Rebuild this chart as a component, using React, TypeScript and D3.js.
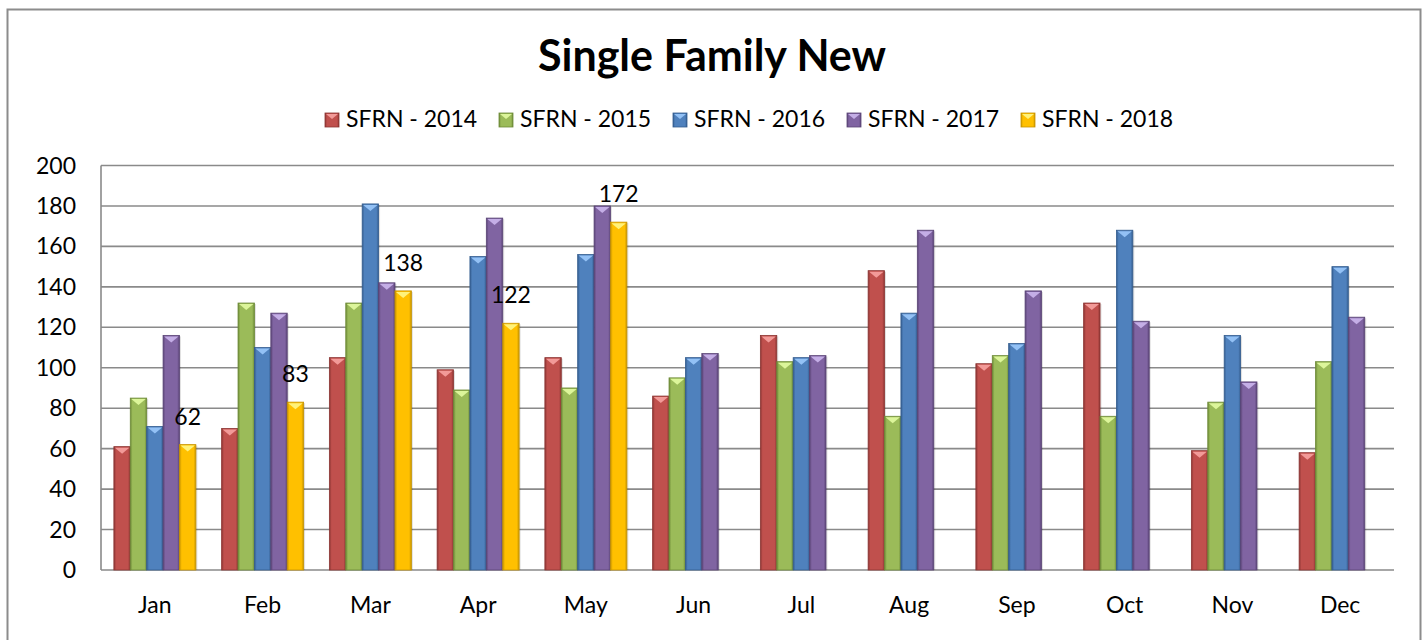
import * as d3 from 'd3'

const months = ['Jan', 'Feb', 'Mar', 'Apr', 'May', 'Jun', 'Jul', 'Aug', 'Sep', 'Oct', 'Nov', 'Dec']

const sfrn2014 = [61, 70, 105, 99, 105, 86, 116, 148, 102, 132, 59, 58]
const sfrn2015 = [85, 132, 132, 89, 90, 95, 103, 76, 106, 76, 83, 103]
const sfrn2016 = [71, 110, 181, 155, 156, 105, 105, 127, 112, 168, 116, 150]
const sfrn2017 = [116, 127, 142, 174, 180, 107, 106, 168, 138, 123, 93, 125]
const sfrn2018: (number | null)[] = [62, 83, 138, 122, 172, null, null, null, null, null, null, null]

const yTicks = [0, 20, 40, 60, 80, 100, 120, 140, 160, 180, 200]

type Series = { key: string, label: string, values: (number | null)[], color: string, light: string, dark: string, labeled: boolean }

const series: Series[] = [
  { key: 's14', label: 'SFRN - 2014', values: sfrn2014, color: '#c0504d', light: '#f29a98', dark: '#8c3533', labeled: false },
  { key: 's15', label: 'SFRN - 2015', values: sfrn2015, color: '#9bbb59', light: '#dcf59a', dark: '#6d8a37', labeled: false },
  { key: 's16', label: 'SFRN - 2016', values: sfrn2016, color: '#4f81bd', light: '#93c1f5', dark: '#345d8f', labeled: false },
  { key: 's17', label: 'SFRN - 2017', values: sfrn2017, color: '#8064a2', light: '#c4aee6', dark: '#5a4476', labeled: false },
  { key: 's18', label: 'SFRN - 2018', values: sfrn2018, color: '#ffc000', light: '#fff27a', dark: '#c79400', labeled: true },
]

const W = 1427
const H = 640
const plot = { left: 101, right: 1394, top: 165.5, bottom: 570 }
const font = 'Lato, "Open Sans", sans-serif'

export default function App(){
  const x0 = d3.scaleBand<string>().domain(months).range([plot.left, plot.right]).paddingInner(0.239).paddingOuter(0.1195)
  const x1 = d3.scaleBand<string>().domain(series.map(s => s.key)).range([0, x0.bandwidth()])
  const y = d3.scaleLinear().domain([0, 200]).range([plot.bottom, plot.top])
  const bw = x1.bandwidth()

  return (
    <svg width={W} height={H} style={{ position: 'absolute', left: 0, top: 0, background: '#fff' }} fontFamily={font}>
      <defs>
        {series.map(s => (
          <linearGradient key={s.key} id={`g-${s.key}`} x1="0" x2="1" y1="0" y2="0">
            <stop offset="0" stopColor={s.dark} />
            <stop offset="0.14" stopColor={s.color} />
            <stop offset="0.86" stopColor={s.color} />
            <stop offset="1" stopColor={s.dark} />
          </linearGradient>
        ))}
      </defs>

      <rect x={7.5} y={9.5} width={1413} height={640} fill="#fff" stroke="#8c8c8c" strokeWidth={2} />

      <text x={712} y={71} textAnchor="middle" fontSize={43} fontWeight="bold">Single Family New</text>

      {series.map((s, i) => {
        const lx = 325 + i * 174
        return (
          <g key={s.key}>
            <rect x={lx} y={113} width={14} height={14} fill={`url(#g-${s.key})`} stroke={s.dark} strokeWidth={0.8} />
            <path d={`M${lx + 1},${114} L${lx + 13},${114} L${lx + 7},${119} Z`} fill={s.light} />
            <text x={lx + 21} y={127} fontSize={23}>{s.label}</text>
          </g>
        )
      })}

      {/* grid */}
      {yTicks.map(t => (
        <line key={t} x1={plot.left} x2={plot.right} y1={y(t)} y2={y(t)} stroke="#8a8a8a" strokeWidth={1.6} />
      ))}
      <line x1={plot.left} x2={plot.left} y1={plot.top} y2={plot.bottom} stroke="#8a8a8a" strokeWidth={1.6} />

      {yTicks.map(t => (
        <text key={t} x={76} y={y(t)} dy="0.35em" textAnchor="end" fontSize={23}>{t}</text>
      ))}
      {months.map(m => (
        <text key={m} x={(x0(m) ?? 0) + x0.bandwidth() / 2} y={613} textAnchor="middle" fontSize={23}>{m}</text>
      ))}

      {/* bars */}
      {months.map((m, mi) => (
        <g key={m} transform={`translate(${x0(m)},0)`}>
          {series.map(s => {
            const v = s.values[mi]
            if(v == null) return null
            const bx = x1(s.key) ?? 0
            const top = y(v)
            return (
              <g key={s.key}>
                <rect x={bx + 1.5} y={top + 1} width={bw} height={plot.bottom - top - 1} fill="#000" opacity={0.12} />
                <rect x={bx} y={top} width={bw} height={plot.bottom - top} fill={`url(#g-${s.key})`} stroke={s.dark} strokeWidth={0.8} />
                <path d={`M${bx + 1},${top + 1} L${bx + bw - 1},${top + 1} L${bx + bw / 2},${top + 7} Z`} fill={s.light} />
              </g>
            )
          })}
        </g>
      ))}

      {/* data labels */}
      {series.filter(s => s.labeled).map(s => (
        <g key={s.key}>
          {months.map((m, mi) => {
            const v = s.values[mi]
            if(v == null) return null
            const cx = (x0(m) ?? 0) + (x1(s.key) ?? 0) + bw / 2
            return <text key={m} x={cx} y={y(v) - 20} textAnchor="middle" fontSize={23}>{v}</text>
          })}
        </g>
      ))}
    </svg>
  )
}
